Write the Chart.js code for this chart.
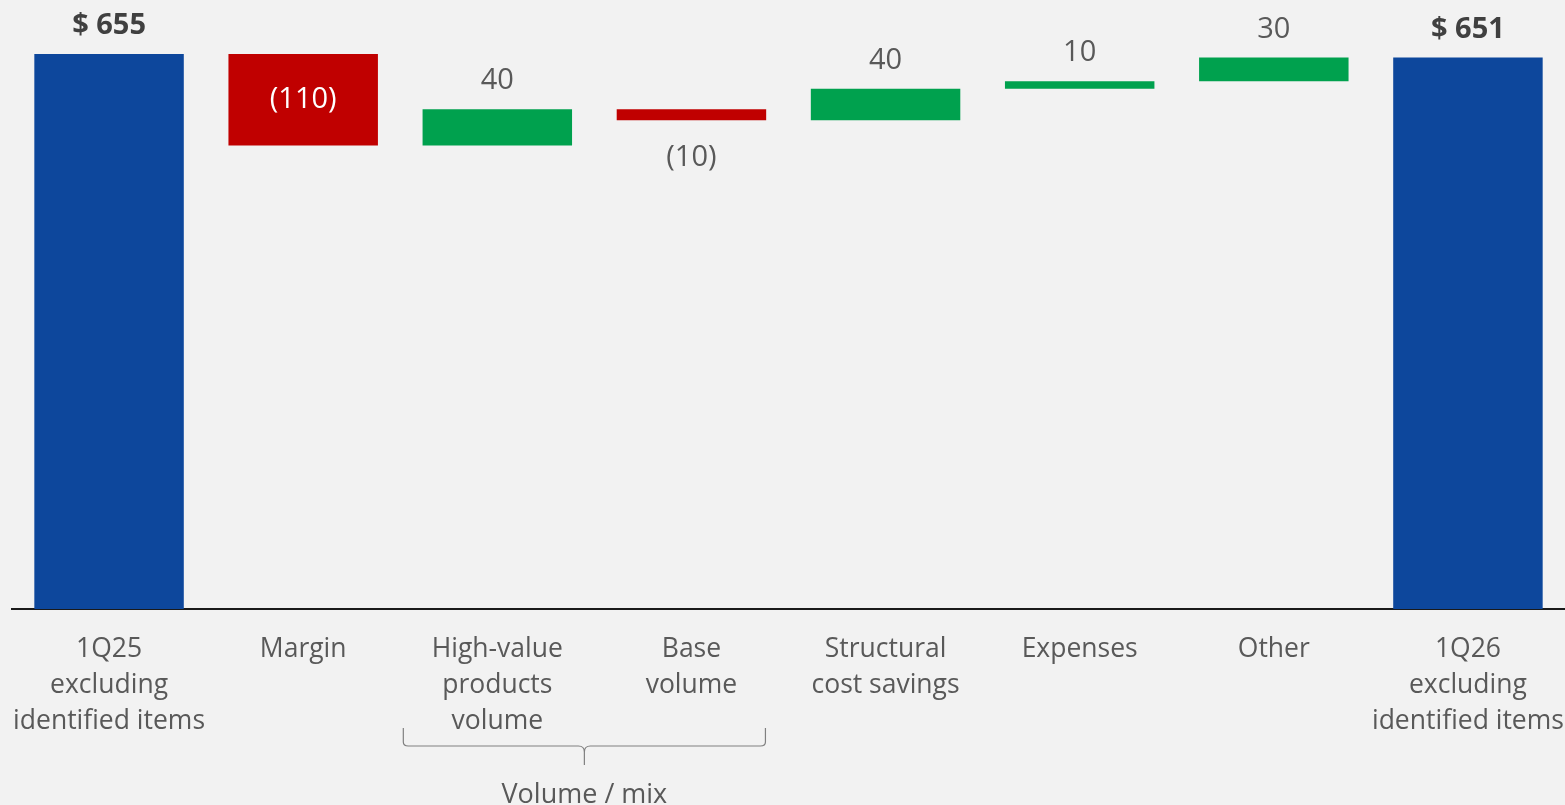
<!doctype html>
<html>
  <head>
    <title>1Q25 to 1Q26 bridge</title>
    <style>
        * { margin: 0; padding: 0; box-sizing: border-box; }
        body { background: #f2f2f2; font-family: "Open Sans", Arial; }
        #wrap { width: 1565px; height: 805px; position: relative; }
    </style>
  </head>
  <body>
    <script src="https://cdn.jsdelivr.net/npm/chart.js@4.4.1/dist/chart.umd.min.js"></script>
    <div id="wrap"><canvas id="myCanvas"></canvas></div>

    <script>
    // categories and values
    const categories = [
        ['1Q25', 'excluding', 'identified items'],
        ['Margin'],
        ['High-value', 'products', 'volume'],
        ['Base', 'volume'],
        ['Structural', 'cost savings'],
        ['Expenses'],
        ['Other'],
        ['1Q26', 'excluding', 'identified items']
    ];
    const startTotal = 655;
    const changes = [-108, 43, -13, 37, 9, 28];
    const endTotal = 651;
    const valueLabels = ['$ 655', '(110)', '40', '(10)', '40', '10', '30', '$ 651'];
    const groupLabel = 'Volume / mix';

    const BLUE = '#0d479c', GREEN = '#00a14e', RED = '#c00000';

    // floating bars [low, high] built from the running total
    let bars = [[0, startTotal]];
    let colors = [BLUE];
    let running = startTotal;
    changes.forEach(c => {
        let next = running + c;
        bars.push([Math.min(running, next), Math.max(running, next)]);
        colors.push(c >= 0 ? GREEN : RED);
        running = next;
    });
    bars.push([0, endTotal]);
    colors.push(BLUE);

    const labelPlugin = {
        id: 'labels',
        afterDatasetsDraw(chart) {
            const ctx = chart.ctx;
            const meta = chart.getDatasetMeta(0);
            ctx.save();
            ctx.textAlign = 'center';
            meta.data.forEach((bar, i) => {
                const top = Math.min(bar.y, bar.base);
                const bottom = Math.max(bar.y, bar.base);
                const isTotal = i === 0 || i === meta.data.length - 1;
                if (isTotal) {
                    ctx.font = 'bold 29px "Open Sans"';
                    ctx.fillStyle = '#404040';
                    ctx.textBaseline = 'alphabetic';
                    ctx.fillText(valueLabels[i], bar.x, top - 20);
                } else if (colors[i] === GREEN) {
                    ctx.font = '29px "Open Sans"';
                    ctx.fillStyle = '#595959';
                    ctx.textBaseline = 'alphabetic';
                    ctx.fillText(valueLabels[i], bar.x, top - 20);
                } else if (bottom - top > 60) {
                    ctx.font = '29px "Open Sans"';
                    ctx.fillStyle = '#ffffff';
                    ctx.textBaseline = 'middle';
                    ctx.fillText(valueLabels[i], bar.x, (top + bottom) / 2);
                } else {
                    ctx.font = '29px "Open Sans"';
                    ctx.fillStyle = '#595959';
                    ctx.textBaseline = 'alphabetic';
                    ctx.fillText(valueLabels[i], bar.x, bottom + 46);
                }
            });
            ctx.restore();
        },
        afterDraw(chart) {
            // brace under the two volume columns
            const ctx = chart.ctx;
            const xs = chart.scales.x;
            const base = chart.chartArea.bottom;
            const x1 = xs.getPixelForValue(2) - 94;
            const x2 = xs.getPixelForValue(3) + 74;
            const xm = (x1 + x2) / 2;
            const yTop = base + 119, yLine = base + 137, yTip = base + 156;
            ctx.save();
            ctx.strokeStyle = '#808080';
            ctx.lineWidth = 1.2;
            ctx.beginPath();
            ctx.moveTo(x1, yTop);
            ctx.lineTo(x1, yLine - 4);
            ctx.quadraticCurveTo(x1, yLine, x1 + 5, yLine);
            ctx.lineTo(xm - 6, yLine);
            ctx.quadraticCurveTo(xm, yLine, xm, yLine + 6);
            ctx.lineTo(xm, yTip);
            ctx.moveTo(xm, yLine + 6);
            ctx.quadraticCurveTo(xm, yLine, xm + 6, yLine);
            ctx.lineTo(x2 - 5, yLine);
            ctx.quadraticCurveTo(x2, yLine, x2, yLine - 4);
            ctx.lineTo(x2, yTop);
            ctx.stroke();
            ctx.font = '27px "Open Sans"';
            ctx.fillStyle = '#595959';
            ctx.textAlign = 'center';
            ctx.textBaseline = 'alphabetic';
            ctx.fillText(groupLabel, xm, base + 194);
            ctx.restore();
        }
    };

    var ctx1 = document.getElementById('myCanvas').getContext('2d');
    var myChart = new Chart(ctx1, {
        type: 'bar',
        data: {
            labels: categories,
            datasets: [{
                data: bars,
                backgroundColor: colors,
                borderWidth: 0,
                barPercentage: 0.77,
                categoryPercentage: 1.0,
                borderSkipped: false
            }]
        },
        options: {
            responsive: true,
            maintainAspectRatio: false,
            animation: false,
            layout: { padding: { top: 16, left: 12, right: 0, bottom: 0 } },
            plugins: { legend: { display: false }, tooltip: { enabled: false } },
            scales: {
                x: {
                    grid: { display: false, drawTicks: false },
                    border: { display: true, color: '#1a1a1a', width: 2 },
                    ticks: {
                        color: '#595959',
                        padding: 22,
                        maxRotation: 0,
                        autoSkip: false,
                        font: { family: '"Open Sans"', size: 26.5, lineHeight: 1.36 }
                    },
                    afterFit: s => {
                        s.height = 196;
                        s.paddingLeft = 0;
                        s.paddingRight = 0;
                    }
                },
                y: {
                    display: false,
                    min: 0,
                    max: 700
                }
            }
        },
        plugins: [labelPlugin]
    });
    </script>
  </body>
</html>
